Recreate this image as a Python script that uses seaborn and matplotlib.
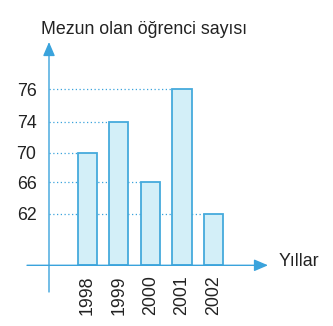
import numpy as np
import pandas as pd
import matplotlib
matplotlib.use("Agg")
import matplotlib.pyplot as plt
import seaborn as sns

years = ["1998", "1999", "2000", "2001", "2002"]
graduates = [70, 74, 66, 76, 62]
tick_values = [62, 66, 70, 74, 76]
y_title = "Mezun olan öğrenci sayısı"
x_title = "Yıllar"

df = pd.DataFrame({"year": years, "count": graduates})

sns.set_theme(style="white")
plt.rcParams["font.family"] = ["Liberation Sans", "DejaVu Sans"]

BLUE = "#3aa3dc"
EDGE = "#45aadc"
FILL = "#d3eff8"
TXT = "#222222"
FS = 12.8

W, H = 333, 326
fig = plt.figure(figsize=(W / 100, H / 100), dpi=100)
left_px, right_px, top_px, base_px = 49, 268, 42, 265.3
ax = fig.add_axes([left_px / W, (H - base_px) / H,
                   (right_px - left_px) / W, (base_px - top_px) / H])

# piecewise axis: the picture spaces the labelled values evenly (not to scale)
V = np.array([54, 62, 66, 70, 74, 76, 80], dtype=float)
P = np.array([0, 51.6, 83.0, 112.6, 143.3, 176.0, 223.3])
ax.set_yscale("function", functions=(lambda v: np.interp(v, V, P),
                                     lambda p: np.interp(p, P, V)))

bar_w = 0.61
sns.barplot(data=df, x="year", y="count", ax=ax, width=bar_w,
            color=FILL, edgecolor=EDGE, linewidth=1.3, saturation=1,
            zorder=3)

x_lo = (left_px - 87.2) / 31.6
x_hi = (right_px - 87.2) / 31.6
ax.set_xlim(x_lo, x_hi)
ax.set_ylim(V[0], V[-1])

# dotted guide lines from the y axis to each bar
for i, v in enumerate(graduates):
    ax.hlines(v, x_lo, i - bar_w / 2, colors=BLUE, linestyles=(0, (1, 2)),
              linewidth=0.9, zorder=1)

for s in ax.spines.values():
    s.set_visible(False)
ax.set_xlabel("")
ax.set_ylabel("")
ax.set_yticks(tick_values)
ax.set_yticklabels([str(t) for t in tick_values], fontsize=FS, color=TXT)
ax.tick_params(axis="y", length=0, pad=9)
ax.tick_params(axis="x", length=0, pad=7)
ax.set_xticks(range(len(years)))
ax.set_xticklabels(years, rotation=90, fontsize=FS, color=TXT)
ax.yaxis.set_minor_locator(matplotlib.ticker.NullLocator())

# axis lines with arrowheads
ax.annotate("", xy=(0, 1), xycoords="axes fraction",
            xytext=(0, (base_px - 292) / (base_px - top_px)), textcoords="axes fraction",
            arrowprops=dict(arrowstyle="-|>,head_length=0.7,head_width=0.3",
                            color=BLUE, lw=1.0, shrinkA=0, shrinkB=0),
            annotation_clip=False, zorder=5)
ax.annotate("", xy=(1, 0), xycoords="axes fraction",
            xytext=((27 - left_px) / (right_px - left_px), 0), textcoords="axes fraction",
            arrowprops=dict(arrowstyle="-|>,head_length=0.7,head_width=0.3",
                            color=BLUE, lw=1.0, shrinkA=0, shrinkB=0),
            annotation_clip=False, zorder=5)

fig.text(41 / W, 1 - 29 / H, y_title, fontsize=FS, color=TXT,
         ha="left", va="center")
fig.text(279 / W, 1 - 262 / H, x_title, fontsize=FS, color=TXT,
         ha="left", va="center")

fig.savefig("out.png", dpi=100, facecolor="white")
